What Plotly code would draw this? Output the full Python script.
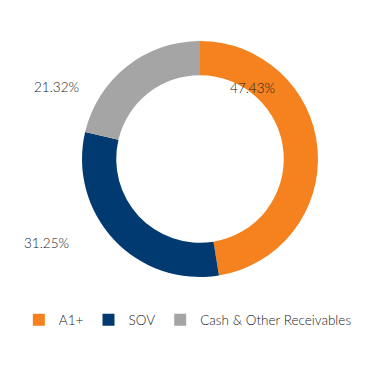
import plotly.graph_objects as go

categories = ["A1+", "SOV", "Cash & Other Receivables"]
values = [47.43, 31.25, 21.32]
colors = ["#F5821F", "#003A70", "#A5A5A5"]
# label placement (paper coords) for each slice's percentage text
label_x = [0.676, 0.108, 0.1357]
label_y = [0.791, 0.385, 0.793]

W, H = 361, 382

fig = go.Figure(go.Pie(
    labels=categories,
    values=values,
    hole=0.71,
    sort=False,
    direction="clockwise",
    rotation=0,
    domain=dict(x=[74 / W, 310 / W], y=[113 / H, 349 / H]),
    marker=dict(colors=colors, line=dict(width=0)),
    textinfo="none",
    hoverinfo="label+percent",
))

annotations = []
for v, x, y in zip(values, label_x, label_y):
    annotations.append(dict(
        x=x, y=y, xref="paper", yref="paper",
        text=f"{v:.2f}%", showarrow=False,
        font=dict(family="Lato", size=13.5, color="#222222", weight=300),
        xanchor="center", yanchor="middle",
    ))

fig.update_layout(
    width=W, height=H,
    margin=dict(l=0, r=0, t=0, b=0),
    paper_bgcolor="white",
    plot_bgcolor="white",
    showlegend=True,
    legend=dict(
        orientation="h",
        x=0.03, xanchor="left",
        y=0.183, yanchor="middle",
        font=dict(family="Lato", size=13.5, color="#222222", weight=300),
        itemwidth=30,
        traceorder="normal",
    ),
    annotations=annotations,
)

fig.write_html("out.html")
